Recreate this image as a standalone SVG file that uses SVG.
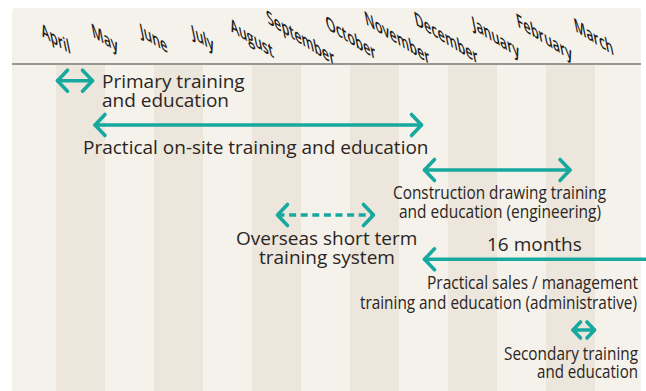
<svg xmlns="http://www.w3.org/2000/svg" width="646" height="391" viewBox="0 0 646 391">
  <defs>
    <style>
      .panel { fill: #f5f2ec; }
      .stripe { fill: #ece6dc; }
      .rule { stroke: #7a7876; stroke-width: 1.4; fill: none; }
      .month { font-family: "Open Sans", "Noto Sans", sans-serif; font-size: 20px; font-weight: 600; fill: #1f1a19; text-anchor: middle; }
      .t { font-family: "Open Sans", "Noto Sans", sans-serif; font-size: 19px; fill: #2b2522; }
      .bar { stroke: #17a99f; stroke-width: 3.6; fill: none; stroke-linecap: round; stroke-linejoin: round; }
      .dash { stroke-dasharray: 7 4.6; stroke-linecap: butt; }
      .head { stroke: #17a99f; stroke-width: 3.6; fill: none; stroke-linecap: round; stroke-linejoin: round; }
    </style>
    <marker id="chev" markerUnits="userSpaceOnUse" orient="auto-start-reverse" refX="0" refY="0" markerWidth="30" markerHeight="30" viewBox="-15 -15 30 30" overflow="visible">
      <path class="head" d="M-10,-10.5 L0,0 L-10,10.5"/>
    </marker>
    <marker id="chevS" markerUnits="userSpaceOnUse" orient="auto-start-reverse" refX="0" refY="0" markerWidth="30" markerHeight="30" viewBox="-15 -15 30 30" overflow="visible">
      <path class="head" d="M-7.5,-8 L0,0 L-7.5,8"/>
    </marker>
  </defs>

  <g id="background">
    <path class="panel" d="M12,391 V12 Q12,8 16,8 H637 Q641,8 641,12 V391 Z"/>
    <rect class="stripe" x="56" y="65" width="49" height="326"/>
    <rect class="stripe" x="154" y="65" width="49" height="326"/>
    <rect class="stripe" x="252" y="65" width="49" height="326"/>
    <rect class="stripe" x="350" y="65" width="49" height="326"/>
    <rect class="stripe" x="448" y="65" width="49" height="326"/>
    <rect class="stripe" x="546" y="65" width="49" height="326"/>
    <line class="rule" x1="12" y1="64" x2="641" y2="64"/>
  </g>

  <g id="months">
    <text class="month" transform="matrix(0.64 0.40 0.2 0.98 57 45.5)">April</text>
    <text class="month" transform="matrix(0.64 0.40 0.2 0.98 106 45)">May</text>
    <text class="month" transform="matrix(0.64 0.40 0.2 0.98 155 45)">June</text>
    <text class="month" transform="matrix(0.64 0.40 0.2 0.98 204 45)">July</text>
    <text class="month" transform="matrix(0.64 0.40 0.2 0.98 253 45)">August</text>
    <text class="month" transform="matrix(0.64 0.40 0.2 0.98 302 44.5)">September</text>
    <text class="month" transform="matrix(0.64 0.40 0.2 0.98 352 44.5)">October</text>
    <text class="month" transform="matrix(0.64 0.40 0.2 0.98 398.5 44.5)">November</text>
    <text class="month" transform="matrix(0.64 0.40 0.2 0.98 447.5 44.5)">December</text>
    <text class="month" transform="matrix(0.64 0.40 0.2 0.98 497 44)">January</text>
    <text class="month" transform="matrix(0.64 0.40 0.2 0.98 545.5 44)">February</text>
    <text class="month" transform="matrix(0.64 0.40 0.2 0.98 595 43.5)">March</text>
  </g>

  <g id="connectors">
    <line id="bar-primary" class="bar" x1="57.5" y1="80.7" x2="92.5" y2="80.7" marker-start="url(#chev)" marker-end="url(#chev)"/>
    <line id="bar-onsite" class="bar" x1="95" y1="125" x2="421.5" y2="125" marker-start="url(#chev)" marker-end="url(#chev)"/>
    <line id="bar-construction" class="bar" x1="424.5" y1="170" x2="570" y2="170" marker-start="url(#chev)" marker-end="url(#chev)"/>
    <line id="bar-overseas" class="bar dash" x1="277.5" y1="215" x2="373.5" y2="215" marker-start="url(#chev)" marker-end="url(#chev)"/>
    <line id="bar-sales" class="bar" x1="424.5" y1="259.3" x2="648" y2="259.3" marker-start="url(#chev)"/>
    <line id="bar-secondary" class="bar" x1="573" y1="330" x2="594.5" y2="330" marker-start="url(#chevS)" marker-end="url(#chevS)"/>
  </g>

  <g id="node-primary">
    <text class="t" x="102" y="88.3">Primary training</text>
    <text class="t" x="102" y="106.7">and education</text>
  </g>
  <g id="node-onsite">
    <text class="t" x="83" y="154">Practical on-site training and education</text>
  </g>
  <g id="node-construction">
    <text class="t" x="393" y="199.3" textLength="213" lengthAdjust="spacingAndGlyphs">Construction drawing training</text>
    <text class="t" x="399" y="218.3" textLength="202" lengthAdjust="spacingAndGlyphs">and education (engineering)</text>
  </g>
  <g id="node-overseas">
    <text class="t" x="236" y="245">Overseas short term</text>
    <text class="t" x="259" y="264">training system</text>
  </g>
  <g id="node-sales">
    <text class="t" x="487" y="250.7">16 months</text>
    <text class="t" x="427" y="289.3" textLength="211" lengthAdjust="spacingAndGlyphs">Practical sales / management</text>
    <text class="t" x="360" y="309.3" textLength="277" lengthAdjust="spacingAndGlyphs">training and education (administrative)</text>
  </g>
  <g id="node-secondary">
    <text class="t" x="504" y="360" textLength="134" lengthAdjust="spacingAndGlyphs">Secondary training</text>
    <text class="t" x="537" y="378.3" textLength="101" lengthAdjust="spacingAndGlyphs">and education</text>
  </g>
</svg>
